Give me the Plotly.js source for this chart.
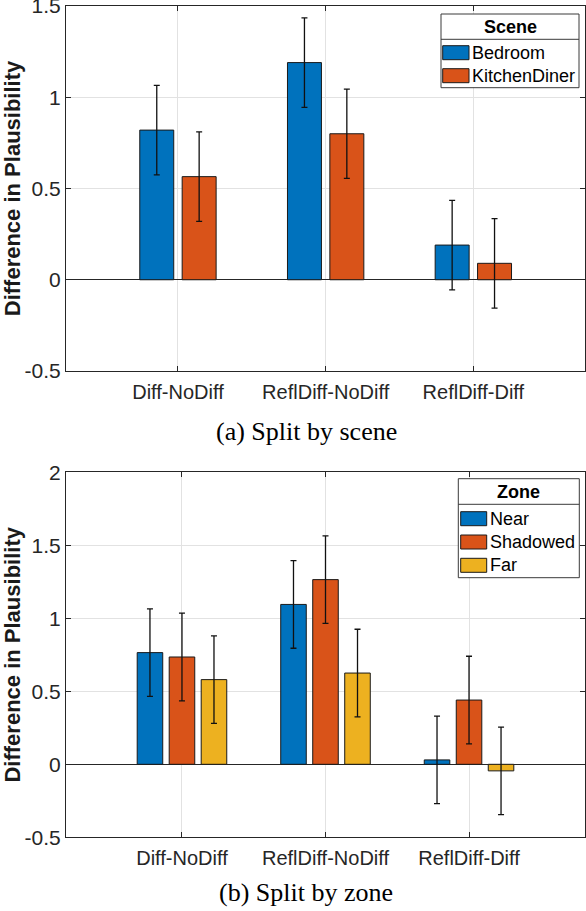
<!DOCTYPE html>
<html>
<head>
<meta charset="utf-8">
<script src="https://cdn.plot.ly/plotly-3.0.1.min.js"></script>
<style>
  html, body { margin: 0; padding: 0; background: #ffffff; }
  #chart { width: 586px; height: 911px; }
</style>
</head>
<body>
<div id="chart"></div>
<script>
// ---- data ---------------------------------------------------------------
const comparisons = ['Diff-NoDiff', 'ReflDiff-NoDiff', 'ReflDiff-Diff'];

// (a) split by scene
const sceneNames   = ['Bedroom', 'KitchenDiner'];
const bedroomMean  = [0.82, 1.19, 0.19];
const bedroomErr   = [0.245, 0.245, 0.245];
const kitchenMean  = [0.565, 0.80, 0.09];
const kitchenErr   = [0.245, 0.245, 0.245];

// (b) split by zone
const zoneNames    = ['Near', 'Shadowed', 'Far'];
const nearMean     = [0.765, 1.095, 0.03];
const nearErr      = [0.30, 0.30, 0.30];
const shadowedMean = [0.735, 1.265, 0.44];
const shadowedErr  = [0.30, 0.30, 0.30];
const farMean      = [0.58, 0.625, -0.045];
const farErr       = [0.30, 0.30, 0.30];

const sceneTickVals = [-0.5, 0, 0.5, 1, 1.5];
const sceneTickText = ['-0.5', '0', '0.5', '1', '1.5'];
const zoneTickVals  = [-0.5, 0, 0.5, 1, 1.5, 2];
const zoneTickText  = ['-0.5', '0', '0.5', '1', '1.5', '2'];

const captions = ['(a) Split by scene', '(b) Split by zone'];
const yTitle = 'Difference in Plausibility';

// ---- styling ------------------------------------------------------------
const W = 586, H = 911;
const px = v => v / W;          // pixel -> paper x
const py = v => 1 - v / H;      // pixel -> paper y
const palette = ['#0072BD', '#D95319', '#EDB120'];
const axisColor = '#262626';
const gridColor = '#e2e2e2';
const sans = 'Liberation Sans, Arial, Helvetica, sans-serif';
const serif = 'Liberation Serif, Times New Roman, serif';
const eps = 1e-6;               // keeps the end ticks inside the range

function barTrace(name, y, err, color, xa, ya, width, offset) {
  return {
    type: 'bar', name: name, x: comparisons, y: y,
    xaxis: xa, yaxis: ya, width: width, offset: offset,
    marker: { color: color, line: { color: '#1a1a1a', width: 1 } },
    error_y: { type: 'data', array: err, visible: true, color: '#111111', thickness: 1.3, width: 3 },
    showlegend: false, hoverinfo: 'x+y'
  };
}

// bar geometry (category units)
const wA = 0.23, stepA = 0.287;
const wB = 0.178, stepB = 0.223;

const traces = [
  barTrace(sceneNames[0], bedroomMean, bedroomErr, palette[0], 'x', 'y', wA, -stepA / 2 - wA / 2),
  barTrace(sceneNames[1], kitchenMean, kitchenErr, palette[1], 'x', 'y', wA,  stepA / 2 - wA / 2),
  barTrace(zoneNames[0], nearMean, nearErr, palette[0], 'x2', 'y2', wB, -stepB - wB / 2),
  barTrace(zoneNames[1], shadowedMean, shadowedErr, palette[1], 'x2', 'y2', wB, -wB / 2),
  barTrace(zoneNames[2], farMean, farErr, palette[2], 'x2', 'y2', wB, stepB - wB / 2)
];

function xAxis(anchor, range) {
  return {
    anchor: anchor, domain: [px(66), px(585)], type: 'category', range: range,
    showgrid: true, gridcolor: gridColor, gridwidth: 1,
    showline: true, linecolor: axisColor, linewidth: 1, mirror: 'allticks',
    ticks: 'inside', ticklen: 5, tickcolor: axisColor, tickwidth: 1,
    tickfont: { family: sans, size: 20, color: axisColor },
    ticklabelstandoff: 3,
    fixedrange: true, automargin: false
  };
}
function yAxis(anchor, dom, range, vals, text) {
  return {
    anchor: anchor, domain: dom, range: [range[0] - eps, range[1] + eps],
    tickmode: 'array', tickvals: vals, ticktext: text,
    ticklabeloverflow: 'allow',
    showgrid: true, gridcolor: gridColor, gridwidth: 1,
    zeroline: true, zerolinecolor: axisColor, zerolinewidth: 1,
    showline: true, linecolor: axisColor, linewidth: 1, mirror: 'allticks',
    ticks: 'inside', ticklen: 5, tickcolor: axisColor, tickwidth: 1,
    tickfont: { family: sans, size: 21, color: axisColor },
    title: { text: '<b>' + yTitle + '</b>', font: { family: sans, size: 22, color: '#1a1a1a' } },
    fixedrange: true, automargin: false
  };
}

// ---- hand-built legends (wide swatches, title separated by a rule) -------
const shapes = [];
const annotations = [];
function legendBox(title, names, box, sepY, titleY, rowY, swX0, swX1, textX) {
  shapes.push({ type: 'rect', xref: 'paper', yref: 'paper', layer: 'above',
    x0: px(box[0]), x1: px(box[1]), y0: py(box[2]), y1: py(box[3]),
    fillcolor: '#ffffff', line: { color: '#3a3a3a', width: 1 } });
  shapes.push({ type: 'line', xref: 'paper', yref: 'paper', layer: 'above',
    x0: px(box[0]), x1: px(box[1]), y0: py(sepY), y1: py(sepY),
    line: { color: '#3a3a3a', width: 1 } });
  annotations.push({ xref: 'paper', yref: 'paper', x: px((box[0] + box[1]) / 2), y: py(titleY),
    xanchor: 'center', yanchor: 'middle', showarrow: false,
    text: '<b>' + title + '</b>', font: { family: sans, size: 18, color: '#000000' } });
  names.forEach((n, i) => {
    shapes.push({ type: 'rect', xref: 'paper', yref: 'paper', layer: 'above',
      x0: px(swX0), x1: px(swX1), y0: py(rowY[i] + 7), y1: py(rowY[i] - 7),
      fillcolor: palette[i], line: { color: '#1a1a1a', width: 1 } });
    annotations.push({ xref: 'paper', yref: 'paper', x: px(textX), y: py(rowY[i]),
      xanchor: 'left', yanchor: 'middle', showarrow: false,
      text: n, font: { family: sans, size: 18, color: '#000000' } });
  });
}
legendBox('Scene', sceneNames, [441, 579, 14, 87.7], 39.3, 27.2, [52.7, 75.7], 442.7, 469, 469.5);
legendBox('Zone', zoneNames, [458.3, 579.3, 478.7, 577.7], 504.3, 491.8, [518.7, 542, 565.3], 460.7, 486.7, 487.5);

// captions
annotations.push({ xref: 'paper', yref: 'paper', x: px(306), y: py(431), xanchor: 'center', yanchor: 'middle',
  showarrow: false, text: captions[0], font: { family: serif, size: 26, color: '#000000' } });
annotations.push({ xref: 'paper', yref: 'paper', x: px(306), y: py(892), xanchor: 'center', yanchor: 'middle',
  showarrow: false, text: captions[1], font: { family: serif, size: 26, color: '#000000' } });

const layout = {
  width: W, height: H,
  margin: { l: 0, r: 0, t: 0, b: 0 },
  paper_bgcolor: '#ffffff', plot_bgcolor: '#ffffff',
  barmode: 'overlay',
  showlegend: false,
  xaxis: xAxis('y', [-0.758, 2.756]),
  yaxis: yAxis('x', [py(371), py(6)], [-0.5, 1.5], sceneTickVals, sceneTickText),
  xaxis2: xAxis('y2', [-0.808, 2.808]),
  yaxis2: yAxis('x2', [py(837.3), py(472.3)], [-0.5, 2], zoneTickVals, zoneTickText),
  shapes: shapes,
  annotations: annotations
};

Plotly.newPlot('chart', traces, layout, { displayModeBar: false, staticPlot: true });
</script>
</body>
</html>
